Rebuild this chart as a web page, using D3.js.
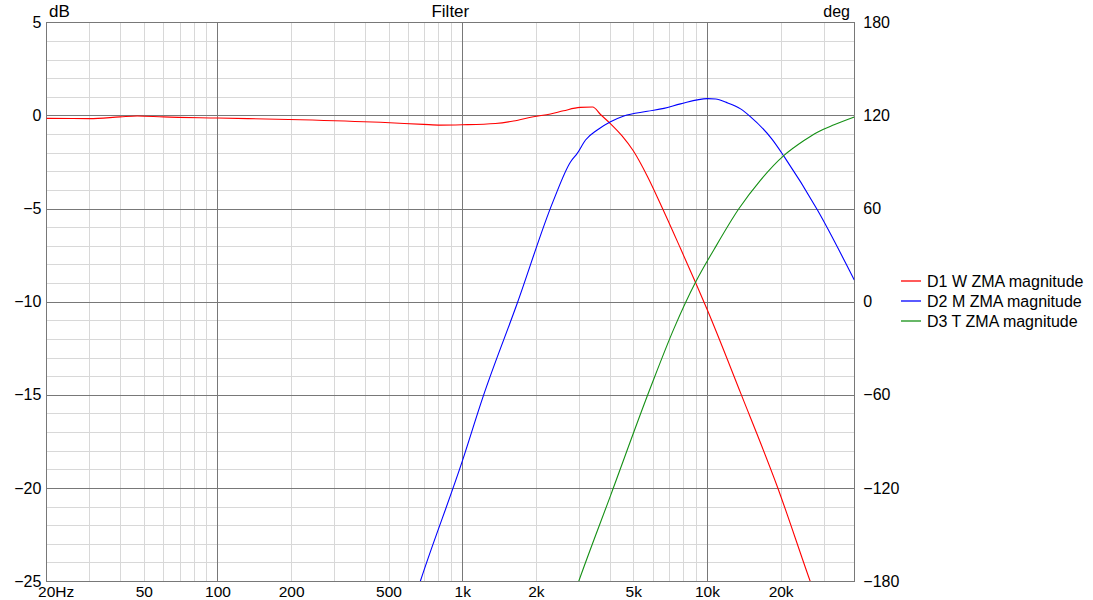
<!DOCTYPE html>
<html><head><meta charset="utf-8">
<script src="https://cdn.jsdelivr.net/npm/d3@7/dist/d3.min.js"></script>
<style>body{margin:0;background:#fff}svg{display:block;font-family:"Liberation Sans",Arial,sans-serif}</style>
</head><body><svg id="c" width="1093" height="600"></svg>
<script>
const title = "Filter";
const leftUnit = "dB", rightUnit = "deg";
const xTickValues = [20, 50, 100, 200, 500, 1000, 2000, 5000, 10000, 20000];
const xTickLabels = ["20Hz", "50", "100", "200", "500", "1k", "2k", "5k", "10k", "20k"];
const yTicks = [5, 0, -5, -10, -15, -20, -25];
const degTicks = [180, 120, 60, 0, -60, -120, -180];
const seriesNames = ["D1 W ZMA magnitude", "D2 M ZMA magnitude", "D3 T ZMA magnitude"];
const seriesColors = ["#ff0000", "#0000ff", "#159015"];

const d1Freq = [20, 30, 40, 47, 60, 100, 218, 463, 694, 814, 1000, 1367, 1620, 1954, 2295, 2594, 3030, 3412, 3673, 4040, 4500, 5000, 5700, 6570, 7800, 9000, 10040, 13720, 19410, 26390, 29000];
const d1Mag  = [-0.16, -0.17, -0.08, -0.03, -0.08, -0.14, -0.23, -0.37, -0.48, -0.52, -0.5, -0.43, -0.3, -0.07, 0.08, 0.25, 0.43, 0.45, 0.05, -0.45, -1.1, -1.9, -3.25, -4.97, -7.15, -9.0, -10.45, -14.9, -19.95, -25, -26.5];

const d2Freq = [600, 675, 1000, 1217, 1677, 2354, 2770, 2951, 3191, 3563, 4037, 4576, 5704, 6670, 7800, 10040, 10857, 12000, 13720, 15000, 18500, 20650, 28280, 40000];
const d2Mag  = [-27.1, -25, -18.58, -15.1, -10.1, -4.6, -2.5, -2.04, -1.32, -0.78, -0.34, -0.03, 0.22, 0.38, 0.62, 0.9, 0.88, 0.7, 0.35, -0.05, -1.3, -2.2, -5.08, -8.84];

const d3Freq = [2800, 2996, 4040, 5886, 7330, 8990, 10690, 13520, 16500, 20650, 24920, 28280, 33080, 40000];
const d3Mag  = [-26.1, -25, -20.4, -14.6, -11.45, -8.95, -7.2, -5.0, -3.5, -2.15, -1.35, -0.9, -0.5, -0.08];

const L = 46.4, R = 854.3, T = 22.3, B = 581;
const FONT = '"Liberation Sans",Arial,sans-serif';
const svg = d3.select("#c");
const x = d3.scaleLog().domain([20, 40000]).range([L, R]);
const y = d3.scaleLinear().domain([-25, 5]).range([B, T]);
const yd = d3.scaleLinear().domain([-180, 180]).range([B, T]);

// minor grid
const minorX = [];
[10, 100, 1000, 10000].forEach(dec => { for (let k = 2; k <= 9; k++) { const f = dec * k; if (f > 20 && f < 40000) minorX.push(f); } });
const minorY = d3.range(-24, 5).filter(v => v % 5 !== 0);
const g = svg.append("g").attr("shape-rendering", "crispEdges");
g.selectAll(".mx").data(minorX).join("line").attr("x1", d => Math.round(x(d)) + 0.5).attr("x2", d => Math.round(x(d)) + 0.5)
  .attr("y1", T).attr("y2", B).attr("stroke", "#d8d8d8");
g.selectAll(".my").data(minorY).join("line").attr("y1", d => Math.round(y(d)) + 0.5).attr("y2", d => Math.round(y(d)) + 0.5)
  .attr("x1", L).attr("x2", R).attr("stroke", "#d8d8d8");
g.selectAll(".Mx").data([100, 1000, 10000]).join("line").attr("x1", d => Math.round(x(d)) + 0.5).attr("x2", d => Math.round(x(d)) + 0.5)
  .attr("y1", T).attr("y2", B).attr("stroke", "#787878");
g.selectAll(".My").data(yTicks.filter(v => v > -25 && v < 5)).join("line").attr("y1", d => Math.round(y(d)) + 0.5).attr("y2", d => Math.round(y(d)) + 0.5)
  .attr("x1", L).attr("x2", R).attr("stroke", "#787878");
g.append("rect").attr("x", Math.round(L) + 0.5).attr("y", Math.round(T) + 0.5)
  .attr("width", Math.round(R) - Math.round(L)).attr("height", Math.round(B) - Math.round(T))
  .attr("fill", "none").attr("stroke", "#787878");

// clip
svg.append("clipPath").attr("id", "clip").append("rect").attr("x", L).attr("y", T).attr("width", R - L).attr("height", B - T);

const line = d3.line().x(d => x(d[0])).y(d => y(d[1])).curve(d3.curveMonotoneX);
const series = [[d1Freq, d1Mag], [d2Freq, d2Mag], [d3Freq, d3Mag]];
const cg = svg.append("g").attr("clip-path", "url(#clip)");
series.forEach((s, i) => {
  cg.append("path").datum(d3.zip(s[0], s[1])).attr("d", line).attr("fill", "none")
    .attr("stroke", seriesColors[i]).attr("stroke-width", 1.1);
});

// axes labels
const yAxis = d3.axisLeft(y).tickValues(yTicks).tickSize(0).tickPadding(5);
const ya = svg.append("g").attr("transform", `translate(${L},0)`).call(yAxis);
ya.select(".domain").remove();
ya.selectAll("text").attr("font-size", 16).attr("fill", "#000").attr("font-family", FONT);

const dAxis = d3.axisRight(yd).tickValues(degTicks).tickSize(0).tickPadding(9);
const da = svg.append("g").attr("transform", `translate(${R},0)`).call(dAxis);
da.select(".domain").remove();
da.selectAll("text").attr("font-size", 16).attr("fill", "#000").attr("font-family", FONT);

const xAxis = d3.axisBottom(x).tickValues(xTickValues).tickFormat((d, i) => xTickLabels[i]).tickSize(0).tickPadding(5);
const xa = svg.append("g").attr("transform", `translate(0,${B})`).call(xAxis);
xa.select(".domain").remove();
xa.selectAll("text").attr("font-size", 15.5).attr("fill", "#000").attr("font-family", FONT);
xa.selectAll("text").filter((d, i) => i === 0).attr("text-anchor", "start").attr("dx", -8.8);

svg.append("text").attr("x", 49).attr("y", 17).attr("font-size", 17).attr("font-family", FONT).text(leftUnit);
svg.append("text").attr("x", 850).attr("y", 17).attr("font-size", 16).attr("font-family", FONT).attr("text-anchor", "end").text(rightUnit);
svg.append("text").attr("x", (L + R) / 2).attr("y", 17).attr("font-size", 17).attr("font-family", FONT).attr("text-anchor", "middle").text(title);

// legend
const lg = svg.append("g");
seriesNames.forEach((n, i) => {
  const yy = 281 + i * 20;
  lg.append("line").attr("x1", 901).attr("x2", 921).attr("y1", yy).attr("y2", yy).attr("stroke", seriesColors[i]).attr("stroke-width", 1.3);
  lg.append("text").attr("x", 927).attr("y", yy).attr("dy", "0.35em").attr("font-size", 16).attr("font-family", FONT).text(n);
});
</script></body></html>
